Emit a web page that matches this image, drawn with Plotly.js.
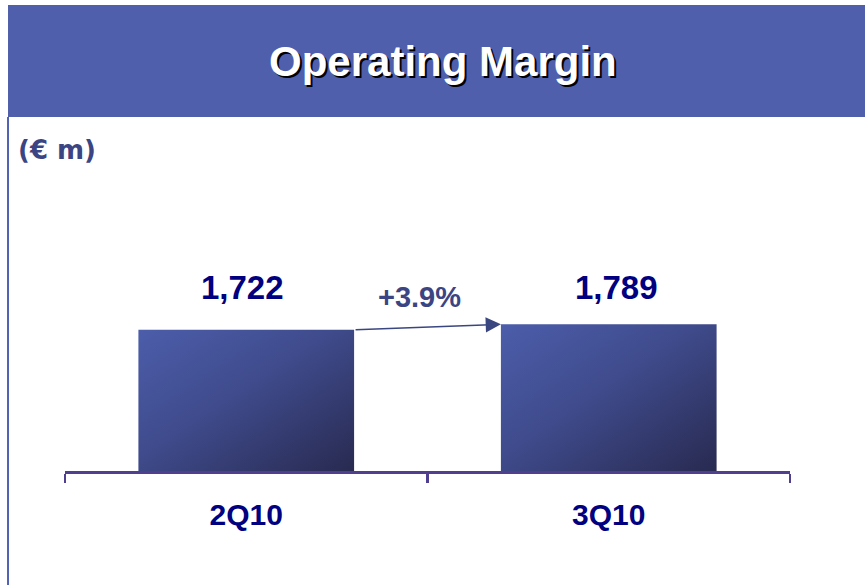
<!DOCTYPE html>
<html>
<head>
<meta charset="utf-8">
<script src="https://cdn.plot.ly/plotly-3.0.1.min.js"></script>
<style>
  html, body { margin: 0; padding: 0; background: #fff; }
  #chart { width: 865px; height: 585px; }
</style>
</head>
<body>
<div id="chart"></div>
<script>
// Operating margin, € m
const quarters = ['2Q10', '3Q10'];
const margin = [1722, 1789];
const valueLabels = ['1,722', '1,789'];
const growthLabel = '+3.9%';

const navy = '#000080';
const slate = '#3B4583';
const barWidth = 0.595;

const trace = {
    type: 'bar',
    x: quarters,
    y: margin,
    width: barWidth,
    marker: {color: '#3D4785', line: {width: 0}},
    hoverinfo: 'none',
    showlegend: false
};

// value labels above the bars, same height for both
const annotations = quarters.map((q, i) => ({
    x: q, xref: 'x',
    y: 0.589, yref: 'paper',
    yanchor: 'middle',
    text: valueLabels[i],
    showarrow: false,
    font: {family: 'Liberation Sans, Arial, sans-serif', size: 33, color: navy, weight: 'bold'},
    xshift: i === 0 ? -4 : 8
}));

// growth arrow from the right edge of bar 1 to the left edge of bar 2
annotations.push({
    x: 1 - barWidth / 2, xref: 'x',
    y: margin[1], yref: 'y',
    ax: barWidth / 2, axref: 'x',
    ay: margin[0], ayref: 'y',
    text: '',
    showarrow: true,
    arrowhead: 2,
    arrowsize: 1.9,
    arrowwidth: 1.6,
    arrowcolor: '#3A4680',
    standoff: 0,
    startstandoff: 0
});
annotations.push({
    x: 0.5, xref: 'x',
    y: 0.56, yref: 'paper',
    yanchor: 'middle',
    text: growthLabel,
    showarrow: false,
    xshift: -8,
    font: {family: 'Liberation Sans, Arial, sans-serif', size: 29, color: slate, weight: 'bold'}
});
annotations.push({
    x: -0.0675, xref: 'paper',
    y: 1.032, yref: 'paper',
    xanchor: 'left', yanchor: 'middle',
    text: '(€ m)',
    showarrow: false,
    font: {family: 'DejaVu Sans, sans-serif', size: 26, color: slate, weight: 'bold'}
});

const layout = {
    width: 865,
    height: 585,
    margin: {l: 65, r: 75, t: 160, b: 114},
    paper_bgcolor: '#ffffff',
    plot_bgcolor: '#ffffff',
    title: {
        text: 'Operating Margin',
        x: 0.512, xanchor: 'center',
        y: 0.895, yanchor: 'middle',
        font: {family: 'Liberation Sans, Arial, sans-serif', size: 42, color: '#ffffff', weight: 'bold',
               shadow: '2px 2px 0px #000000'}
    },
    xaxis: {
        type: 'category',
        range: [-0.5, 1.5],
        showline: true,
        linecolor: '#503E8E',
        linewidth: 2.5,
        ticks: 'outside',
        tickson: 'boundaries',
        ticklen: 9,
        tickwidth: 2.5,
        tickcolor: '#503E8E',
        ticklabelstandoff: 15,
        tickfont: {family: 'Liberation Sans, Arial, sans-serif', size: 30, color: navy, weight: 'bold'},
        showgrid: false,
        zeroline: false,
        fixedrange: true
    },
    yaxis: {
        range: [0, 3793],
        visible: false,
        showgrid: false,
        zeroline: false,
        fixedrange: true
    },
    shapes: [
        // title banner
        {type: 'rect', xref: 'paper', yref: 'paper', x0: -0.0786, x1: 1.11, y0: 1.1383, y1: 1.4984,
         fillcolor: '#4F5FAB', line: {width: 0}, layer: 'below'},
        // left border
        {type: 'line', xref: 'paper', yref: 'paper', x0: -0.0786, x1: -0.0786, y0: -0.4, y1: 1.1383,
         line: {color: '#5262B2', width: 2}}
    ],
    annotations: annotations
};

Plotly.newPlot('chart', [trace], layout, {displayModeBar: false, staticPlot: true}).then(function(gd) {
    // diagonal gradient on bars, like the slide
    const svg = gd.querySelector('svg.main-svg');
    const ns = 'http://www.w3.org/2000/svg';
    let defs = svg.querySelector('defs');
    if (!defs) { defs = document.createElementNS(ns, 'defs'); svg.insertBefore(defs, svg.firstChild); }
    const grad = document.createElementNS(ns, 'linearGradient');
    grad.setAttribute('id', 'barGrad');
    grad.setAttribute('x1', '0'); grad.setAttribute('y1', '0');
    grad.setAttribute('x2', '1'); grad.setAttribute('y2', '1');
    [['0', '#4C5DAA'], ['0.45', '#3F4B8C'], ['1', '#282A50']].forEach(function(s) {
        const st = document.createElementNS(ns, 'stop');
        st.setAttribute('offset', s[0]);
        st.setAttribute('stop-color', s[1]);
        grad.appendChild(st);
    });
    defs.appendChild(grad);
    gd.querySelectorAll('.bars .point path').forEach(function(p) {
        p.style.fill = 'url(#barGrad)';
    });
});
</script>
</body>
</html>
